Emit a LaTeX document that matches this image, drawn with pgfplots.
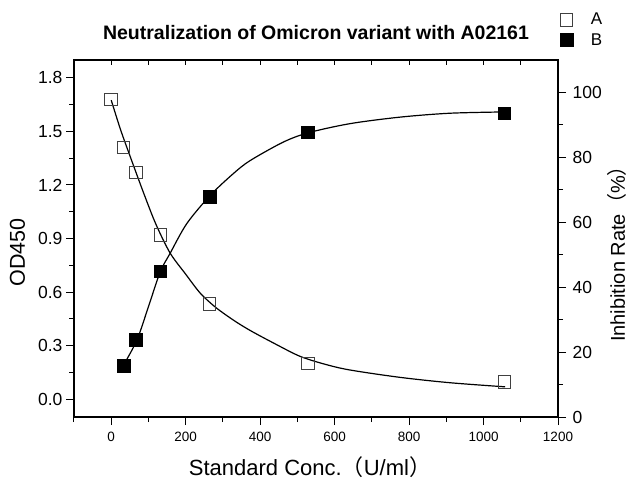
\documentclass[border=0pt]{standalone}
\usepackage{fontspec}
\setmainfont{Liberation Sans}
\newfontfamily\cjk{Noto Sans CJK SC}
\usepackage{pgfplots}
\pgfplotsset{compat=1.18}

\pgfplotsset{
  base/.style={
    scale only axis, width=484pt, height=357pt,
    xmin=-100, xmax=1200,
    axis line style={line width=1.1pt},
    tick style={line width=1pt, black},
    major tick length=8pt, minor tick length=5pt,
    tick align=outside,
    /pgf/number format/assume math mode=true,
  },
  fitline/.style={black, line width=1.2pt, smooth, no markers},
}

\begin{document}
\begin{tikzpicture}
% left axis: OD450 (series A)
\begin{axis}[base, name=main,
  ymin=-0.1, ymax=1.9,
  xtick={0,200,...,1200}, minor xtick={-100,100,300,500,700,900,1100},
  ytick={0,0.3,0.6,0.9,1.2,1.5,1.8},
  minor ytick={0.15,0.45,0.75,1.05,1.35,1.65},
  xtick pos=bottom, ytick pos=left,
  scaled y ticks=false,
  x tick label style={font=\fontsize{13.5}{14}\selectfont, yshift=-4pt, /pgf/number format/1000 sep={}},
  y tick label style={font=\fontsize{17.5}{18}\selectfont,
    /pgf/number format/.cd, fixed, fixed zerofill, precision=1},
  xlabel={Standard Conc.{\cjk （}U/ml{\cjk ）}},
  xlabel style={font=\fontsize{22}{22}\selectfont, at={(axis description cs:0.4876,-0.1625)}, anchor=base},
  ylabel={OD450},
  ylabel style={font=\fontsize{21.5}{22}\selectfont, at={(axis description cs:-0.10124,0.4608)}, anchor=base},
  title={Neutralization of Omicron variant with A02161},
  title style={font=\bfseries\fontsize{19.5}{20}\selectfont, at={(axis description cs:0.5,1.042)}, anchor=base, yshift=0pt},
]
\addplot[fitline] coordinates {
  (0,1.675) (25,1.51) (51,1.359) (87,1.155) (120,0.98) (158,0.819)
  (200,0.70) (239,0.594) (280,0.515) (328,0.443) (373,0.385) (440,0.31)
  (507,0.240) (575,0.195) (642,0.163) (776,0.122) (910,0.092) (1058,0.069)
};
\addplot[only marks, mark=square, mark size=6.3pt, mark options={draw=black!75, line width=0.9pt}] coordinates {
  (0,1.68) (33,1.41) (66,1.27) (132,0.92) (264,0.535) (528,0.2) (1056,0.097)
};
\end{axis}

% right axis: inhibition rate (series B)
\begin{axis}[base,
  ymin=0, ymax=110,
  axis y line*=right, axis x line=none,
  ytick={0,20,...,100}, minor ytick={10,30,...,90},
  y tick label style={font=\fontsize{17.5}{18}\selectfont, xshift=3pt},
  ylabel={Inhibition Rate{\cjk （}\%{\cjk ）}},
  ylabel style={font=\fontsize{20}{21}\selectfont, at={(axis description cs:1.1384,0.4706)}, anchor=base},
  legend style={at={(axis description cs:1.0041,1.1345)}, anchor=north west, draw=none, fill=none,
    inner sep=0pt, font=\fontsize{17}{17}\selectfont, row sep=5pt, column sep=17pt,
    nodes={inner sep=1pt}},
  legend cell align=left,
]
\addlegendimage{only marks, mark=square, mark size=6.3pt, mark options={draw=black!75, line width=0.9pt}}
\addlegendentry{A}
\addplot[fitline, forget plot] coordinates {
  (33,16) (69,23.7) (100,34) (131.5,44.7) (158,50.4) (203,59.6) (266,68.3)
  (328,75) (373,79) (462,84.7) (530,87.6) (642,90.4) (776,92.4) (910,93.6) (1058,94)
};
\addplot[only marks, mark=square*, mark size=6.3pt, mark options={fill=black, draw=black}] coordinates {
  (33,15.8) (66,23.9) (132,44.9) (264,67.8) (528,87.8) (1056,93.6)
};
\addlegendentry{B}
\end{axis}

% top ticks pointing inward
\begin{axis}[base, ymin=0, ymax=1, hide y axis, axis x line*=top,
  xtick={0,100,...,1100}, xticklabels={}, tick align=inside, major tick length=5pt]
\end{axis}

\pgfresetboundingbox
\path[use as bounding box] ([shift={(-74pt,-62pt)}]main.south west) rectangle ([shift={(70pt,60pt)}]main.north east);
\end{tikzpicture}
\end{document}
